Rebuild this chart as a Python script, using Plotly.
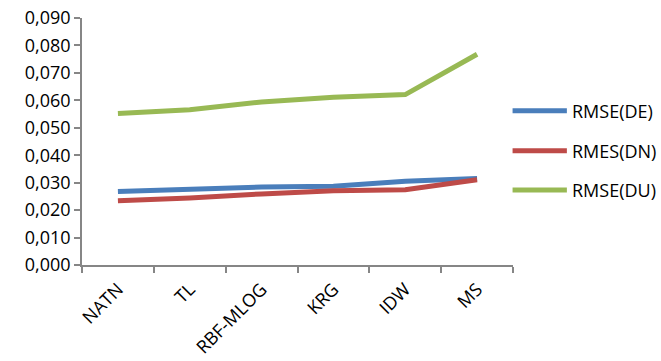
import plotly.graph_objects as go

# Interpolation methods and their RMSE values per component
methods = ["NATN", "TL", "RBF-MLOG", "KRG", "IDW", "MS"]
rmse_de = [0.0268, 0.0277, 0.0284, 0.0287, 0.0305, 0.0315]
rmes_dn = [0.0234, 0.0244, 0.0259, 0.0271, 0.0274, 0.0311]
rmse_du = [0.0552, 0.0566, 0.0594, 0.0611, 0.0621, 0.0768]

series = [
    ("RMSE(DE)", rmse_de, "#4A7EBB"),
    ("RMES(DN)", rmes_dn, "#BE4B48"),
    ("RMSE(DU)", rmse_du, "#98B954"),
]

FONT = "Open Sans, Liberation Sans, sans-serif"
AXIS_COLOR = "#868686"
FS = 18

fig = go.Figure()
for name, vals, color in series:
    fig.add_trace(go.Scatter(
        x=methods, y=vals, mode="lines", name=name,
        line=dict(color=color, width=5),
        showlegend=False,
    ))

# Hand-built legend on the right side
legend_y = [0.625, 0.463, 0.304]
shapes = []
annotations = []
for (name, _, color), ly in zip(series, legend_y):
    shapes.append(dict(
        type="line", xref="paper", yref="paper",
        x0=0.999, x1=1.125, y0=ly, y1=ly,
        line=dict(color=color, width=5),
    ))
    annotations.append(dict(
        xref="paper", yref="paper", x=1.132, y=ly,
        text=name, showarrow=False, xanchor="left", yanchor="middle",
        font=dict(family=FONT, size=FS, color="#000000"),
    ))

fig.update_layout(
    width=661, height=361,
    margin=dict(l=82, r=148, t=18, b=96, autoexpand=False),
    paper_bgcolor="white", plot_bgcolor="white",
    font=dict(family=FONT, size=FS, color="#000000"),
    shapes=shapes, annotations=annotations,
    xaxis=dict(
        type="category", tickson="boundaries", range=[-0.5, 5.5],
        showline=True, linecolor=AXIS_COLOR, linewidth=1.5,
        ticks="outside", ticklen=6, tickcolor=AXIS_COLOR, tickwidth=1.5,
        tickangle=-45, ticklabelstandoff=5,
        showgrid=False, zeroline=False, automargin=False,
        tickfont=dict(family=FONT, size=FS),
    ),
    yaxis=dict(
        range=[0, 0.09], dtick=0.01, tickformat=".3f",
        showline=True, linecolor=AXIS_COLOR, linewidth=1.5,
        ticks="outside", ticklen=6, tickcolor=AXIS_COLOR, tickwidth=1.5,
        showgrid=False, zeroline=False, automargin=False,
        tickfont=dict(family=FONT, size=FS),
    ),
    separators=", ",
)

fig.write_html("out.html")
